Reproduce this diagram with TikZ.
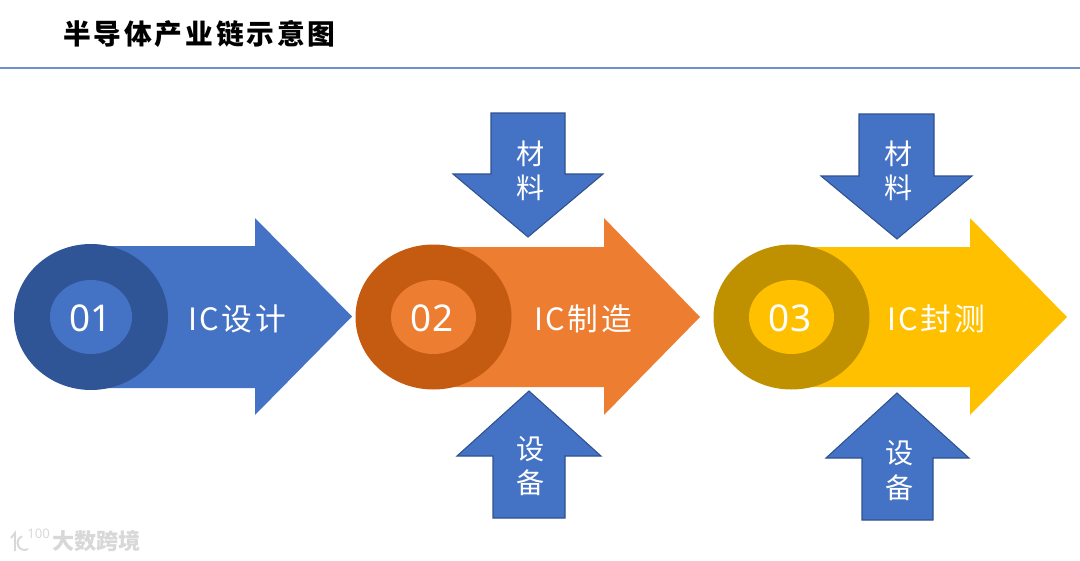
\documentclass[tikz,border=0pt]{standalone}
\usepackage{fontspec}
\setsansfont{Noto Sans}
\newfontfamily\cjk[LetterSpace=8]{Noto Sans CJK SC}
\newfontfamily\cjkhead[LetterSpace=10]{Noto Sans CJK SC}
\newfontfamily\cjktight{Noto Sans CJK SC}
\definecolor{ruleblue}{HTML}{6F8FC9}
\definecolor{matblue}{HTML}{4472C4}
\definecolor{matedge}{HTML}{2F528F}
\definecolor{darkblue}{HTML}{2F5597}
\definecolor{stepor}{HTML}{ED7D31}
\definecolor{darkor}{HTML}{C55A11}
\definecolor{stepye}{HTML}{FFC000}
\definecolor{darkye}{HTML}{BF9000}
\definecolor{markgray}{HTML}{D8D8D8}
\tikzset{
	inarrow/.style={fill=matblue,draw=matedge,line width=0.6pt,line join=miter},
	steplabel/.style={text=white,font=\cjk\fontsize{17.5}{20}\selectfont,inner sep=0pt},
	numlabel/.style={text=white,font=\sffamily\fontsize{21}{24}\selectfont,inner sep=0pt},
	inlabel/.style={text=white,font=\cjktight\fontsize{16}{19}\selectfont,inner sep=0pt},
	markline/.style={draw=markgray,line width=1.1pt}
}
\begin{document}
\begin{tikzpicture}[x=0.02cm,y=-0.02cm]
	\useasboundingbox (0,0) rectangle (1080,561);
	% heading
	\node[anchor=west,inner sep=0pt,font=\cjkhead\bfseries\fontsize{15.8}{19}\selectfont] (title) at (63,34) {半导体产业链示意图};
	\draw[ruleblue,line width=0.7pt] (0,68) -- (1080,68);
	% step 1
	\fill[matblue] (90,246) -- (255,246) -- (255,218) -- (352,316.5) -- (255,415) -- (255,388) -- (90,388) -- cycle;
	\fill[darkblue] (91,317) ellipse (77 and 73);
	\fill[matblue] (91,317) ellipse (41 and 37);
	\node[numlabel] (num1) at (91,318) {01};
	\node[steplabel] (step1) at (237,319) {IC设计};
	% step 2
	\fill[stepor] (433,247) -- (604,247) -- (604,218) -- (700,317) -- (604,415) -- (604,387) -- (433,387) -- cycle;
	\fill[darkor] (433.5,317) ellipse (78 and 72.5);
	\fill[stepor] (433.5,317) ellipse (42.5 and 37);
	\node[numlabel] (num2) at (432,318) {02};
	\node[steplabel] (step2) at (583,319) {IC制造};
	% step 3
	\fill[stepye] (791,247) -- (970,247) -- (970,218) -- (1067,317) -- (970,415) -- (970,387) -- (791,387) -- cycle;
	\fill[darkye] (791.5,317) ellipse (78 and 72.5);
	\fill[stepye] (791.5,317) ellipse (42.5 and 37);
	\node[numlabel] (num3) at (790,318) {03};
	\node[steplabel] (step3) at (936,319) {IC封测};
	% inputs of step 2
	\draw[inarrow] (491,113) -- (565,113) -- (565,174) -- (603,174) -- (528,237) -- (453,174) -- (491,174) -- cycle;
	\node[inlabel] (mat2a) at (531,154) {材};
	\node[inlabel] (mat2b) at (531,188) {料};
	\draw[inarrow] (493,518) -- (565,518) -- (565,456) -- (601,456) -- (529,391) -- (457,456) -- (493,456) -- cycle;
	\node[inlabel] (dev2a) at (531,449) {设};
	\node[inlabel] (dev2b) at (531,483) {备};
	% inputs of step 3
	\draw[inarrow] (859,114) -- (934,114) -- (934,176) -- (972,176) -- (897,239) -- (821,176) -- (859,176) -- cycle;
	\node[inlabel] (mat3a) at (899,154) {材};
	\node[inlabel] (mat3b) at (899,188) {料};
	\draw[inarrow] (862,520) -- (933,520) -- (933,458) -- (969,458) -- (897,393) -- (826,458) -- (862,458) -- cycle;
	\node[inlabel] (dev3a) at (900,453) {设};
	\node[inlabel] (dev3b) at (900,488) {备};
	% corner mark
	\node[anchor=west,inner sep=0pt,text=markgray,font=\cjktight\bfseries\fontsize{12.6}{14}\selectfont] (markname) at (52,541) {大数跨境};
	\draw[markline] (11,538) -- (15,533) -- (15,551);
	\draw[markline] (28,549) arc (60:250:7);
	\node[anchor=west,inner sep=0pt,text=markgray,font=\sffamily\fontsize{7.5}{9}\selectfont] (marklogo) at (27,534) {100};
\end{tikzpicture}
\end{document}
